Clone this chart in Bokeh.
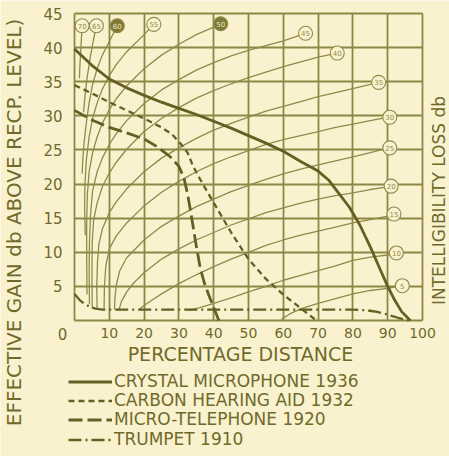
import math
from bokeh.plotting import figure
from bokeh.models import (Range1d, FixedTicker, Legend, LegendItem, ColumnDataSource, Label)
from bokeh.core.properties import value
from bokeh.embed import file_html
from bokeh.resources import INLINE

# ---------------- data ----------------
x_ticks = [10, 20, 30, 40, 50, 60, 70, 80, 90, 100]
y_ticks = [5, 10, 15, 20, 25, 30, 35, 40, 45]

crystal_x = [0, 5, 10, 15, 20, 25, 30, 35, 40, 45, 50, 55, 60, 65, 70, 73, 76, 79, 82, 85, 88, 90, 92, 94, 96.5]
crystal_y = [39.8, 37.4, 35.4, 34.1, 33.0, 32.0, 31.1, 30.2, 29.2, 28.2, 27.1, 26.0, 24.8, 23.3, 21.9, 20.6, 18.6, 16.6, 14.0, 10.8, 7.3, 5.0, 3.0, 1.3, 0.0]

carbon_x = [0, 5, 10, 15, 20, 25, 28, 30.5, 32.5, 34, 36, 38, 41, 45, 50, 55, 60, 65, 69.5]
carbon_y = [34.5, 33.3, 32.0, 30.8, 29.6, 28.3, 27.3, 25.9, 24.6, 22.7, 20.8, 19.0, 16.4, 12.9, 9.0, 6.1, 3.8, 1.8, 0.0]

micro_x = [0, 5, 10, 15, 20, 24, 27.5, 30, 31.5, 32.5, 33.5, 34.8, 36.2, 37.5, 39, 40.3, 41.5]
micro_y = [30.8, 29.4, 28.3, 27.5, 26.6, 25.4, 24.0, 22.6, 20.8, 18.5, 15.6, 11.5, 7.5, 5.2, 3.2, 1.5, 0.0]

trumpet_x = [0, 1.5, 3, 4.5, 6, 8, 20, 40, 60, 80, 84, 87, 90, 93, 96]
trumpet_y = [3.9, 3.0, 2.4, 2.0, 1.75, 1.6, 1.6, 1.6, 1.6, 1.6, 1.5, 1.25, 0.85, 0.4, 0.0]

# intelligibility-loss contours (db)
loss_levels = [5, 10, 15, 20, 25, 30, 35, 40, 45, 50, 55, 60, 65, 70]
loss_label_x = [94.2, 92.5, 91.8, 91.0, 90.6, 90.6, 87.4, 75.5, 66.4, 42.0, 22.8, 12.3, 6.3, 2.2]
loss_label_y = [5.1, 9.9, 15.6, 19.7, 25.3, 29.8, 34.9, 39.2, 42.1, 43.5, 43.4, 43.2, 43.2, 43.2]

loss5_x = [94.2, 90, 85, 80, 75, 70, 65, 62, 59.5]
loss5_y = [5.1, 4.7, 4.4, 3.9, 3.2, 2.5, 1.7, 1.0, 0.2]
loss10_x = [92.5, 90, 85, 80, 75, 70, 65, 60, 55, 50, 45, 40, 36, 33]
loss10_y = [9.9, 9.6, 9.3, 8.8, 8.0, 7.3, 6.6, 5.9, 5.0, 4.2, 3.3, 2.5, 1.9, 1.5]
loss15_x = [91.8, 90, 85, 80, 75, 70, 65, 60, 55, 50, 45, 40, 35, 30, 25, 22, 20, 18.5]
loss15_y = [15.6, 15.3, 14.8, 14.3, 13.7, 13.1, 12.5, 11.8, 11.0, 10.0, 9.0, 7.9, 6.7, 5.4, 3.9, 2.9, 2.2, 1.6]
loss20_x = [91, 89, 85, 80, 75, 70, 65, 60, 55, 50, 45, 40, 35, 30, 25, 20, 17, 15, 13.5, 12.8]
loss20_y = [19.7, 19.5, 19.2, 18.7, 18.3, 17.8, 17.2, 16.5, 15.8, 14.9, 14.0, 12.9, 11.8, 10.5, 9.0, 7.0, 5.5, 4.2, 2.8, 1.6]
loss25_x = [90.6, 88, 85, 80, 75, 70, 65, 60, 55, 50, 45, 40, 35, 30, 25, 20, 15, 13, 12, 11.6, 11.5]
loss25_y = [25.3, 25.0, 24.6, 24.0, 23.4, 22.8, 22.2, 21.5, 20.7, 19.8, 18.9, 17.8, 16.7, 15.3, 13.8, 11.8, 9.2, 7.3, 5.2, 3.2, 1.6]
loss30_x = [90.6, 88, 85, 80, 75, 70, 65, 60, 55, 50, 45, 40, 35, 30, 25, 20, 15, 12, 10, 9, 8.6, 8.5]
loss30_y = [29.8, 29.6, 29.3, 28.8, 28.3, 27.7, 27.1, 26.5, 25.8, 24.9, 24.0, 23.0, 21.8, 20.4, 18.8, 16.8, 14.3, 12.4, 10.5, 8.0, 5.0, 1.6]
loss35_x = [87.4, 85, 80, 75, 70, 65, 60, 55, 50, 45, 40, 35, 30, 25, 20, 15, 12, 10, 8, 7, 6.6, 6.4, 6.5]
loss35_y = [34.9, 34.6, 34.0, 33.4, 32.8, 32.1, 31.4, 30.7, 29.8, 28.9, 27.9, 26.7, 25.3, 23.8, 21.8, 19.3, 17.4, 15.8, 13.4, 11.2, 8.5, 5.0, 1.6]
loss40_x = [75.5, 70, 65, 60, 55, 50, 45, 40, 35, 30, 25, 20, 15, 12, 10, 8, 6.5, 5.5, 5.1, 5.0, 5.1]
loss40_y = [39.2, 38.6, 37.9, 37.2, 36.4, 35.6, 34.7, 33.7, 32.6, 31.2, 29.6, 27.7, 25.1, 23.2, 21.6, 19.6, 17.2, 14.8, 11.5, 7.0, 1.7]
loss45_x = [66.4, 60, 55, 50, 45, 40, 35, 30, 25, 20, 15, 12, 10, 8, 6.5, 5.2, 4.6, 4.3, 4.2, 4.3]
loss45_y = [42.1, 41.0, 40.3, 39.6, 38.8, 37.8, 36.7, 35.3, 33.8, 31.8, 29.3, 27.4, 25.8, 23.8, 21.8, 19.0, 15.5, 11.5, 7.0, 2.4]
loss50_x = [42, 40, 35, 30, 25, 20, 15, 12, 10, 8, 6.5, 5.2, 4.2, 3.7, 3.5, 3.5, 3.6]
loss50_y = [43.5, 43.0, 41.9, 40.5, 38.9, 36.9, 34.4, 32.5, 30.9, 28.9, 26.9, 24.6, 21.8, 18.5, 14.5, 9.5, 3.8]
loss55_x = [22.8, 20, 15, 12, 10, 8, 6.5, 5.2, 4.2, 3.4, 3.0, 2.9, 3.1]
loss55_y = [43.4, 41.9, 39.4, 37.5, 35.9, 33.9, 31.9, 29.6, 26.9, 23.5, 20.0, 16.5, 12.5]
loss60_x = [12.3, 10, 8, 6.5, 5.2, 4.2, 3.4, 2.8, 2.4, 2.2]
loss60_y = [43.2, 40.9, 38.9, 36.9, 34.6, 31.9, 29.0, 26.3, 23.8, 21.5]
loss65_x = [6.3, 5.5, 4.5, 3.6, 3.0, 2.6]
loss65_y = [43.2, 41.3, 38.5, 35.5, 32.8, 30.5]
loss70_x = [2.2, 1.9, 1.6, 1.4]
loss70_y = [43.2, 40.5, 37.8, 35.5]

legend_labels = ["CRYSTAL MICROPHONE 1936", "CARBON HEARING AID 1932",
                 "MICRO-TELEPHONE 1920", "TRUMPET 1910"]
x_title = "PERCENTAGE DISTANCE"
y_title = "EFFECTIVE GAIN db ABOVE RECP. LEVEL)"
y2_title = "INTELLIGIBILITY LOSS db"

# ---------------- styling ----------------
BG = "#faf2cf"
INK = "#655f24"
GRID = "#8c8747"
CONTOUR = "#8f8a4a"
TEXT = "#6f6a2b"
FONT = "DejaVu Sans"

W, H = 449, 456
# chart box in pixels: x 0..100 -> 74..422, y 0..45 -> 320..13
PX_X = 348 / 100.0
PX_Y = 307 / 45.0
p = figure(width=W, height=H, output_backend="svg", toolbar_location=None,
           x_range=Range1d(-74 / PX_X, 100 + (W - 422) / PX_X),
           y_range=Range1d(-(H - 320) / PX_Y, 45 + 13 / PX_Y),
           min_border_left=0, min_border_right=0, min_border_top=0, min_border_bottom=0)
p.background_fill_color = BG
p.border_fill_color = BG
p.outline_line_color = None

xa = p.xaxis[0]
ya = p.yaxis[0]
xa.fixed_location = 0
ya.fixed_location = 0
xa.ticker = FixedTicker(ticks=x_ticks)
ya.ticker = FixedTicker(ticks=y_ticks)
for ax in (xa, ya):
    ax.axis_line_color = None
    ax.major_tick_line_color = None
    ax.minor_tick_line_color = None
    ax.major_tick_out = 0
    ax.major_tick_in = 0
    ax.major_label_text_color = TEXT
    ax.major_label_text_font = FONT
xa.major_label_text_font_size = "14px"
xa.major_label_standoff = 7
ya.major_label_text_font_size = "15px"
ya.major_label_standoff = 12

# grid limited to the chart box
gx = [0] + x_ticks
gy = [0] + y_ticks
grid_ok = True
try:
    p.xgrid.cross_bounds = (gy[0], gy[-1])
    p.ygrid.cross_bounds = (gx[0], gx[-1])
except Exception:
    grid_ok = False
if grid_ok:
    p.xgrid.ticker = FixedTicker(ticks=gx)
    p.ygrid.ticker = FixedTicker(ticks=gy)
    for g in (p.xgrid, p.ygrid):
        g.grid_line_color = GRID
        g.grid_line_width = 1.8
else:
    p.xgrid.visible = False
    p.ygrid.visible = False
    p.segment(x0=gx, y0=[gy[0]] * len(gx), x1=gx, y1=[gy[-1]] * len(gx),
              line_color=GRID, line_width=1.8)
    p.segment(x0=[gx[0]] * len(gy), y0=gy, x1=[gx[-1]] * len(gy), y1=gy,
              line_color=GRID, line_width=1.8)

# contours
c_xs = [loss5_x, loss10_x, loss15_x, loss20_x, loss25_x, loss30_x, loss35_x,
        loss40_x, loss45_x, loss50_x, loss55_x, loss60_x, loss65_x, loss70_x]
c_ys = [loss5_y, loss10_y, loss15_y, loss20_y, loss25_y, loss30_y, loss35_y,
        loss40_y, loss45_y, loss50_y, loss55_y, loss60_y, loss65_y, loss70_y]
p.multi_line(xs=c_xs, ys=c_ys, line_color=CONTOUR, line_width=1.3)

# main curves
r_crystal = p.line(crystal_x, crystal_y, line_color=INK, line_width=2.8)
r_carbon = p.line(carbon_x, carbon_y, line_color=INK, line_width=2.3, line_dash="6 4")
r_micro = p.line(micro_x, micro_y, line_color=INK, line_width=2.8, line_dash="14 5")
r_trumpet = p.line(trumpet_x, trumpet_y, line_color=INK, line_width=2.3, line_dash="13 4 2 4")

# contour labels in circles
dark = {50, 60}
lab_src = ColumnDataSource(dict(
    x=loss_label_x, y=loss_label_y,
    t=[str(v) for v in loss_levels],
    fill=["#7e7936" if v in dark else BG for v in loss_levels],
    tc=["#efe6b8" if v in dark else CONTOUR for v in loss_levels],
))
p.scatter("x", "y", source=lab_src, marker="circle", size=14,
          fill_color="fill", line_color=CONTOUR, line_width=1.1)
p.text("x", "y", text="t", source=lab_src, text_font=value(FONT), text_font_size="7px",
       text_align="center", text_baseline="middle", text_color="tc")

# legend below the chart box: one row each, so the rows can sit close together
renderers = [r_crystal, r_carbon, r_micro, r_trumpet]
row_bottoms = [65, 46, 27, 7]   # pixels from the bottom of the figure
for lab, rend, yb in zip(legend_labels, renderers, row_bottoms):
    lg = Legend(items=[LegendItem(label=lab, renderers=[rend])],
                location=(68, yb), orientation="vertical",
                glyph_width=44, glyph_height=17, label_height=17, spacing=0,
                padding=0, margin=0, label_standoff=2,
                label_text_font_size="17px", label_text_color=TEXT, label_text_font=FONT,
                border_line_color=None, background_fill_alpha=0)
    p.add_layout(lg)


def screen_label(text, x, y, size, angle=0.0):
    # x, y: pixels from the left and from the bottom of the figure
    return Label(x=x, y=y, x_units="screen", y_units="screen", text=text, angle=angle,
                 text_align="center", text_baseline="middle", text_font_size=size,
                 text_color=TEXT, text_font=FONT)


p.add_layout(screen_label(y_title, 13, H - 222, "20px", math.pi / 2))
p.add_layout(screen_label(y2_title, 438, H - 200, "17px", math.pi / 2))
p.add_layout(screen_label(x_title, 240, H - 353, "19px"))
p.add_layout(screen_label("0", 62, H - 333, "15px"))

open("out.html", "w").write(file_html(p, INLINE))
